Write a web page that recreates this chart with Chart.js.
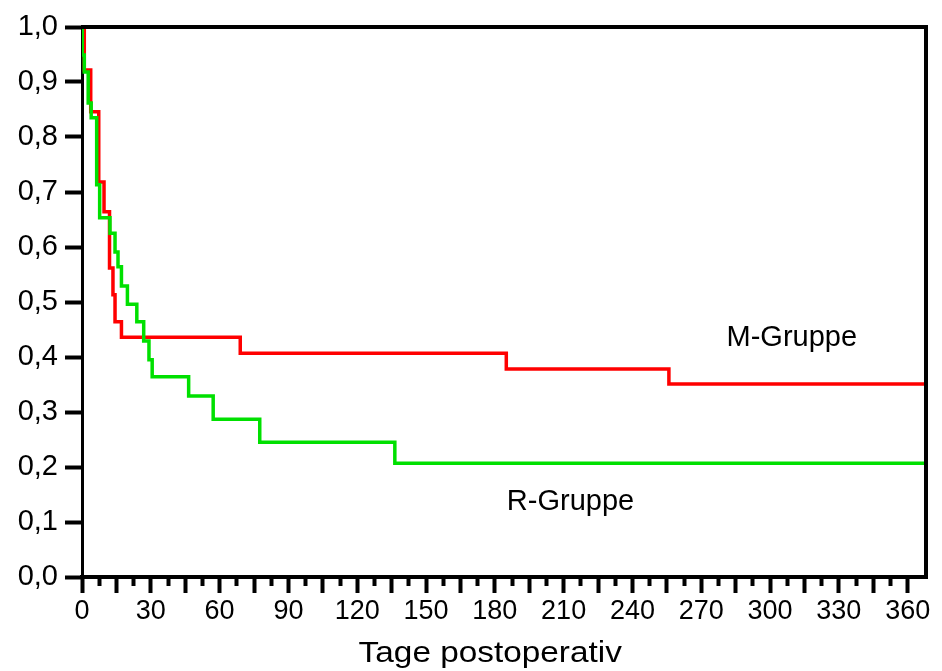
<!DOCTYPE html>
<html>
<head>
<meta charset="utf-8">
<script src="https://cdn.jsdelivr.net/npm/chart.js@4.4.1/dist/chart.umd.min.js"></script>
<style>
  html, body { margin: 0; padding: 0; background: #fff; }
</style>
</head>
<body>
<canvas id="kmChart" width="942" height="671"></canvas>
<script>
// Kaplan-Meier: Überleben nach OP, M-Gruppe vs. R-Gruppe
const mDays = [0, 1.0, 3.8, 7.3, 9.6, 12.0, 13.5, 14.4, 17.2, 69.0, 185.0, 255.9, 368];
const mSurv = [1.0, 0.922, 0.846, 0.718, 0.664, 0.562, 0.513, 0.464, 0.436, 0.407, 0.378, 0.351, 0.351];

const rDays = [0, 0.1, 1.0, 2.7, 4.0, 6.4, 7.7, 12.2, 14.4, 15.7, 17.2, 19.8, 23.9, 26.9, 29.2, 30.6, 46.5, 57.2, 77.5, 136.4, 368];
const rSurv = [1.0, 0.949, 0.918, 0.862, 0.835, 0.713, 0.653, 0.625, 0.591, 0.564, 0.529, 0.496, 0.464, 0.429, 0.395, 0.364, 0.329, 0.287, 0.245, 0.207, 0.207];

const xTickLabels = [0, 30, 60, 90, 120, 150, 180, 210, 240, 270, 300, 330, 360];
const yTickLabels = [0, 0.1, 0.2, 0.3, 0.4, 0.5, 0.6, 0.7, 0.8, 0.9, 1.0];

const FONT = '"Liberation Sans", Arial, sans-serif';

function toPoints(days, surv) {
  return days.map((d, i) => ({ x: d, y: surv[i] }));
}

// tick marks every 7.5 days, long ones every 15
const xTickValues = [];
for (let v = 0; v <= 360; v += 7.5) xTickValues.push(v);

// top and right frame lines
const framePlugin = {
  id: 'frame',
  afterDatasetsDraw(chart) {
    const { ctx, chartArea: a } = chart;
    ctx.save();
    ctx.strokeStyle = '#000';
    ctx.lineWidth = 4;
    ctx.beginPath();
    ctx.moveTo(a.left - 1, a.top);
    ctx.lineTo(a.right, a.top);
    ctx.lineTo(a.right, a.bottom + 2);
    ctx.stroke();
    ctx.restore();
  }
};

// slightly widened text, like the original figure
function wideText(ctx, text, cx, cy, size, stretch) {
  ctx.save();
  ctx.font = size + 'px ' + FONT;
  ctx.fillStyle = '#000';
  ctx.textAlign = 'center';
  ctx.textBaseline = 'middle';
  ctx.translate(cx, cy);
  ctx.scale(stretch, 1);
  ctx.fillText(text, 0, 0);
  ctx.restore();
}

// group labels and axis title
const textPlugin = {
  id: 'texts',
  afterDatasetsDraw(chart) {
    const { ctx } = chart;
    const x = chart.scales.x, y = chart.scales.y;
    wideText(ctx, 'M-Gruppe', x.getPixelForValue(309.5), y.getPixelForValue(0.435), 29, 1.0);
    wideText(ctx, 'R-Gruppe', x.getPixelForValue(213), y.getPixelForValue(0.136), 29, 1.0);
    wideText(ctx, 'Tage postoperativ', x.getPixelForValue(178), chart.height - 17, 29, 1.15);
  }
};

const ctx = document.getElementById('kmChart').getContext('2d');
new Chart(ctx, {
  type: 'line',
  data: {
    datasets: [
      {
        label: 'R-Gruppe',
        data: toPoints(rDays, rSurv),
        borderColor: '#00e000',
        borderWidth: 3.5,
        stepped: true,
        pointRadius: 0,
        fill: false
      },
      {
        label: 'M-Gruppe',
        data: toPoints(mDays, mSurv),
        borderColor: '#ff0000',
        borderWidth: 3.5,
        stepped: true,
        pointRadius: 0,
        fill: false
      }
    ]
  },
  options: {
    responsive: false,
    animation: false,
    layout: { padding: { top: 27, right: 16, left: 0, bottom: 0 } },
    plugins: {
      legend: { display: false },
      tooltip: { enabled: false }
    },
    scales: {
      x: {
        type: 'linear',
        min: 0,
        max: 368,
        afterBuildTicks: function(scale) {
          scale.ticks = xTickValues.map(v => ({ value: v }));
        },
        afterFit: function(scale) {
          scale.height = 94;
        },
        ticks: {
          autoSkip: false,
          maxRotation: 0,
          padding: 2,
          color: '#000',
          font: { size: 27, family: FONT },
          callback: function(value) {
            return xTickLabels.includes(value) ? String(value) : '';
          }
        },
        grid: {
          drawOnChartArea: false,
          drawTicks: true,
          tickLength: 16,
          tickWidth: 4,
          tickColor: '#000',
          tickBorderDash: function(c) {
            return (c.tick && c.tick.value % 15 !== 0) ? [7, 60] : [];
          }
        },
        border: { display: true, color: '#000', width: 4 },
        title: { display: false }
      },
      y: {
        min: 0,
        max: 1,
        afterBuildTicks: function(scale) {
          scale.ticks = yTickLabels.map(v => ({ value: v }));
        },
        afterFit: function(scale) {
          scale.width = 82;
        },
        ticks: {
          padding: 7,
          color: '#000',
          font: { size: 29, family: FONT },
          callback: function(value) {
            return value.toFixed(1).replace('.', ',');
          }
        },
        grid: {
          drawOnChartArea: false,
          drawTicks: true,
          tickLength: 17,
          tickWidth: 4,
          tickColor: '#000'
        },
        border: { display: true, color: '#000', width: 3 }
      }
    }
  },
  plugins: [framePlugin, textPlugin]
});
</script>
</body>
</html>
